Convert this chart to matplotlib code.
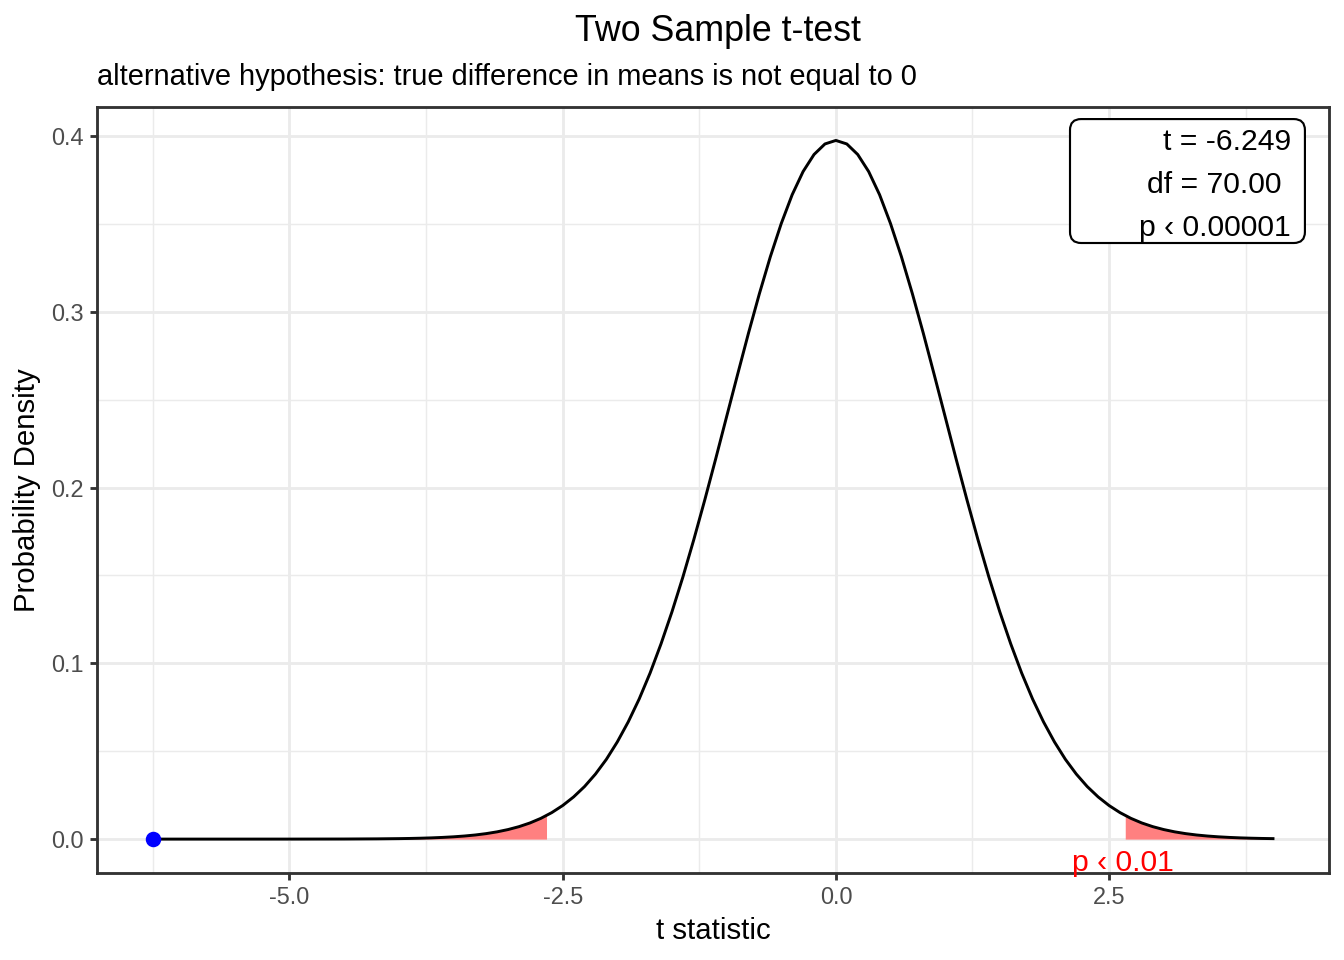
import matplotlib.pyplot as plt
from matplotlib.patches import FancyBboxPatch
from matplotlib.ticker import MultipleLocator

plt.rcParams['font.family'] = ['Liberation Sans', 'DejaVu Sans']

# density curve of the t statistic
half_x = [0.0, 0.1, 0.2, 0.3, 0.4, 0.5, 0.6, 0.7, 0.8, 0.9,
          1.0, 1.1, 1.2, 1.3, 1.4, 1.5, 1.6, 1.7, 1.8, 1.9,
          2.0, 2.1, 2.2, 2.3, 2.4, 2.5, 2.6, 2.7, 2.8, 2.9,
          3.0, 3.1, 3.2, 3.3, 3.4, 3.5, 3.6, 3.7, 3.8, 3.9, 4.0]
half_y = [0.3975, 0.3955, 0.3895, 0.3798, 0.3666, 0.3502, 0.3313, 0.3103, 0.2878, 0.2642,
          0.2403, 0.2163, 0.1929, 0.1704, 0.1491, 0.1293, 0.1111, 0.0945, 0.0797, 0.0667,
          0.0553, 0.0454, 0.0370, 0.0299, 0.0240, 0.0191, 0.01507, 0.0118, 0.00917, 0.00708,
          0.00543, 0.00413, 0.00312, 0.00234, 0.00175, 0.00130, 0.00096, 0.00070, 0.00051, 0.00037, 0.00027]
far_x = [-6.249, -5.5, -5.0, -4.5, -4.2]
far_y = [0.0, 0.000001, 0.000008, 0.000048, 0.00014]

t_x = far_x + [-v for v in half_x[:0:-1]] + half_x
dens = far_y + half_y[:0:-1] + half_y

# rejection regions (p < 0.01, two sided)
right_x = [2.648, 2.7, 2.8, 2.9, 3.0, 3.1, 3.2, 3.3, 3.4, 3.5, 3.6, 3.7, 3.8, 3.9, 4.0]
right_y = [0.01341, 0.0118, 0.00917, 0.00708, 0.00543, 0.00413, 0.00312, 0.00234,
           0.00175, 0.00130, 0.00096, 0.00070, 0.00051, 0.00037, 0.00027]
left_x = [-v for v in right_x]
left_y = right_y

t_obs = -6.249
stat_lines = ["t = -6.249", "df = 70.00", "p \u2039 0.00001"]

fig = plt.figure(figsize=(7, 5), dpi=192)
ax = fig.add_axes([0.0722, 0.0906, 0.9166, 0.7979])

ax.fill_between(left_x, 0, left_y, color='#FF8080', lw=0)
ax.fill_between(right_x, 0, right_y, color='#FF8080', lw=0)
ax.plot(t_x, dens, color='black', lw=1.1, solid_joinstyle='round')
ax.plot([t_obs], [0], 'o', color='blue', ms=4.8)

ax.text(2.63, -0.0135, "p \u2039 0.01", color='red', fontsize=11.3, ha='center', va='center')

# stats box
box = FancyBboxPatch((0.7898, 0.8225), 0.9805 - 0.7898, 0.9843 - 0.8225,
                     boxstyle='round,pad=0,rounding_size=0.009', transform=ax.transAxes,
                     fc='white', ec='black', lw=0.8, zorder=4, mutation_aspect=1.6)
ax.add_patch(box)
for line, xr, yb in zip(stat_lines, [0.9692, 0.9611, 0.9692], [0.9439, 0.8877, 0.8316]):
    ax.text(xr, yb, line, fontsize=11.3, ha='right', va='baseline',
            transform=ax.transAxes, zorder=5)

ax.set_xlim(-6.761, 4.512)
ax.set_ylim(-0.0193, 0.4165)
ax.xaxis.set_minor_locator(MultipleLocator(1.25))
ax.yaxis.set_minor_locator(MultipleLocator(0.05))
ax.set_xticks([-5.0, -2.5, 0.0, 2.5])
ax.set_xticklabels(["-5.0", "-2.5", "0.0", "2.5"])
ax.set_yticks([0.0, 0.1, 0.2, 0.3, 0.4])
ax.set_yticklabels(["0.0", "0.1", "0.2", "0.3", "0.4"])

ax.grid(which='major', color='#EBEBEB', lw=1.07)
ax.grid(which='minor', color='#EBEBEB', lw=0.53)
ax.set_axisbelow(True)
ax.tick_params(which='major', length=2.75, width=1.07, color='#333333',
               labelsize=8.8, labelcolor='#4D4D4D', pad=2.2)
ax.tick_params(which='minor', length=0)
for s in ax.spines.values():
    s.set_color('#333333')
    s.set_linewidth(1.07)

ax.set_xlabel("t statistic", fontsize=11, labelpad=3)
ax.set_ylabel("Probability Density", fontsize=11, labelpad=4)

fig.text(0.534, 0.967, "Two Sample t-test", fontsize=13.4, ha='center', va='center')
fig.text(0.0722, 0.920, "alternative hypothesis: true difference in means is not equal to 0",
         fontsize=10.9, ha='left', va='center')

fig.savefig("out.png", dpi=192)
